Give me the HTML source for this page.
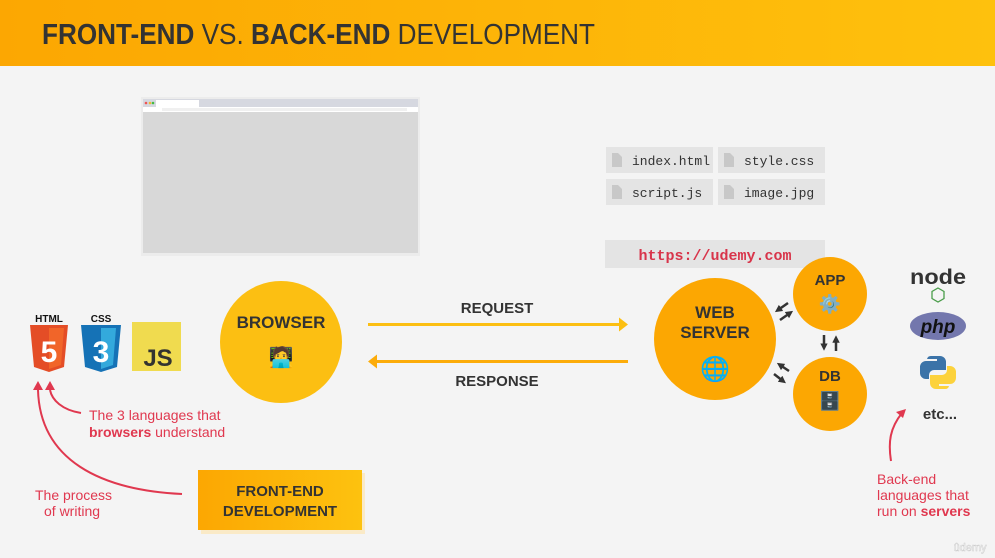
<!DOCTYPE html>
<html><head><meta charset="utf-8"><style>
html,body{margin:0;padding:0;width:995px;height:558px;overflow:hidden;background:#f4f4f4}
svg{display:block}
text{font-family:"Liberation Sans",sans-serif}
.m{font-family:"Liberation Mono",monospace}
</style></head><body>
<svg width="995" height="558" viewBox="0 0 995 558" xmlns="http://www.w3.org/2000/svg">
<defs>
<linearGradient id="hg" x1="0" x2="1" y1="0" y2="0"><stop offset="0" stop-color="#fca702"/><stop offset="1" stop-color="#fec10d"/></linearGradient>
<linearGradient id="fg" x1="0" x2="1"><stop offset="0" stop-color="#fca702"/><stop offset="1" stop-color="#fdc20f"/></linearGradient>
<marker id="ah" viewBox="0 0 10 10" refX="5" refY="5" markerWidth="3" markerHeight="3" orient="auto"><path d="M0 0L10 5L0 10z" fill="#333"/></marker>
</defs>
<rect width="995" height="558" fill="#f4f4f4"/>
<rect width="995" height="66" fill="url(#hg)"/>
<text x="42" y="44" font-size="29" fill="#333" textLength="553" lengthAdjust="spacingAndGlyphs"><tspan font-weight="bold">FRONT-END</tspan> VS. <tspan font-weight="bold">BACK-END</tspan> DEVELOPMENT</text>

<!-- browser mockup -->
<rect x="141" y="97" width="279" height="159" fill="#e6e6e6" opacity="0.6"/>
<rect x="143" y="99" width="275" height="154" fill="#d8d8d8"/>
<rect x="143" y="99" width="275" height="8" fill="#d6d8e0"/>
<rect x="156" y="100" width="43" height="7" fill="#fff"/>
<circle cx="146" cy="103" r="1.3" fill="#e55"/><circle cx="150" cy="103" r="1.3" fill="#eb3"/><circle cx="153" cy="103" r="1.3" fill="#4b4"/>
<rect x="143" y="107" width="275" height="5" fill="#fff"/>
<rect x="162" y="108" width="245" height="3" fill="#f0f0f0"/>

<!-- files -->
<g fill="#e4e4e4">
<rect x="606" y="147" width="107" height="26"/><rect x="718" y="147" width="107" height="26"/>
<rect x="606" y="179" width="107" height="26"/><rect x="718" y="179" width="107" height="26"/>
</g>
<g fill="#c8c8c8">
<path d="M612 153h6l4 4v10h-10z"/><path d="M724 153h6l4 4v10h-10z"/>
<path d="M612 185h6l4 4v10h-10z"/><path d="M724 185h6l4 4v10h-10z"/>
</g>
<g font-size="13" fill="#333">
<text x="632" y="165" class="m">index.html</text><text x="744" y="165" class="m">style.css</text>
<text x="632" y="197" class="m">script.js</text><text x="744" y="197" class="m">image.jpg</text>
</g>
<rect x="605" y="240" width="220" height="28" fill="#e4e4e4"/>
<text x="715" y="260" text-anchor="middle" class="m" font-size="15" font-weight="bold" fill="#d8344a">https://udemy.com</text>

<!-- browser circle -->
<circle cx="281" cy="342" r="61" fill="#fcbf12"/>
<text x="281" y="328" text-anchor="middle" font-size="17" font-weight="bold" fill="#333">BROWSER</text>
<text x="281" y="364" text-anchor="middle" font-size="20">🧑‍💻</text>

<!-- arrows -->
<text x="497" y="313" text-anchor="middle" font-size="15" font-weight="bold" fill="#333">REQUEST</text>
<line x1="368" y1="324.5" x2="620" y2="324.5" stroke="#fcbf12" stroke-width="3"/>
<path d="M628 324.5l-9-7v14z" fill="#fcbf12"/>
<line x1="376" y1="361.5" x2="628" y2="361.5" stroke="#fcac0a" stroke-width="3"/>
<path d="M368 361.5l9-7v14z" fill="#fcac0a"/>
<text x="497" y="386" text-anchor="middle" font-size="15" font-weight="bold" fill="#333">RESPONSE</text>

<!-- server -->
<circle cx="715" cy="339" r="61" fill="#fca702"/>
<text x="715" y="318" text-anchor="middle" font-size="17" font-weight="bold" fill="#333">WEB</text>
<text x="715" y="338" text-anchor="middle" font-size="17" font-weight="bold" fill="#333">SERVER</text>
<text x="715" y="377" text-anchor="middle" font-size="24">🌐</text>
<circle cx="830" cy="294" r="37" fill="#fca702"/>
<text x="830" y="285" text-anchor="middle" font-size="15" font-weight="bold" fill="#333">APP</text>
<text x="830" y="310" text-anchor="middle" font-size="18">⚙️</text>
<circle cx="830" cy="394" r="37" fill="#fca702"/>
<text x="830" y="381" text-anchor="middle" font-size="15" font-weight="bold" fill="#333">DB</text>
<text x="830" y="407" text-anchor="middle" font-size="18">🗄️</text>
<g stroke="#333" stroke-width="2.5" marker-end="url(#ah)">
<line x1="788" y1="303" x2="778" y2="310"/>
<line x1="780" y1="320" x2="790" y2="313"/>
<line x1="789" y1="371" x2="780" y2="365"/>
<line x1="774" y1="374" x2="783" y2="381"/>
<line x1="824" y1="335" x2="824" y2="347"/>
<line x1="836" y1="351" x2="836" y2="339"/>
</g>

<!-- backend langs -->
<text x="938" y="284" text-anchor="middle" font-size="21" font-weight="bold" fill="#333" textLength="56" lengthAdjust="spacingAndGlyphs">node</text>
<path d="M938 288l6 3.5v7l-6 3.5-6-3.5v-7z" fill="none" stroke="#4a9d4a" stroke-width="1.3"/>
<ellipse cx="938" cy="326" rx="28" ry="14" fill="#7377ad"/>
<text x="938" y="333" text-anchor="middle" font-size="19" font-weight="bold" font-style="italic" fill="#111">php</text>
<path d="M931 356h9a6 6 0 0 1 6 6v8h-12a5 5 0 0 0-5 5v4h-3a6 6 0 0 1-6-6v-6a6 6 0 0 1 6-6h11v-2h-10a4 4 0 0 1 4-3z" fill="#3b73a8"/>
<path d="M945 389h-9a6 6 0 0 1-6-6v-8h12a5 5 0 0 0 5-5v-4h3a6 6 0 0 1 6 6v6a6 6 0 0 1-6 6h-11v2h10a4 4 0 0 1-4 3z" fill="#fcd23c"/>
<text x="940" y="419" text-anchor="middle" font-size="15" font-weight="bold" fill="#333">etc...</text>
<path d="M891 461C888 442 890 428 902 413" fill="none" stroke="#e0384f" stroke-width="2"/>
<path d="M906 409l-10 3 7 6z" fill="#e0384f"/>
<g font-size="14" fill="#e0384f">
<text x="877" y="484">Back-end</text>
<text x="877" y="500">languages that</text>
<text x="877" y="516">run on <tspan font-weight="bold">servers</tspan></text>
</g>

<!-- frontend icons -->
<text x="49" y="322" text-anchor="middle" font-size="10" font-weight="bold" fill="#111">HTML</text>
<path d="M30 325h38l-4 42-15 5-15-5z" fill="#e44d26"/>
<path d="M49 328v41l12-4 3-37z" fill="#f16529"/>
<text x="49" y="362" text-anchor="middle" font-size="30" font-weight="bold" fill="#fff">5</text>
<text x="101" y="322" text-anchor="middle" font-size="10" font-weight="bold" fill="#111">CSS</text>
<path d="M81 325h40l-4 42-16 5-16-5z" fill="#1572b6"/>
<path d="M101 328v41l12-4 3-37z" fill="#33a9dc"/>
<text x="101" y="362" text-anchor="middle" font-size="30" font-weight="bold" fill="#fff">3</text>
<rect x="132" y="322" width="49" height="49" fill="#f0db4f"/>
<text x="158" y="366" text-anchor="middle" font-size="24" font-weight="bold" fill="#323330">JS</text>

<path d="M81 413C62 410 52 400 50 390" fill="none" stroke="#e0384f" stroke-width="2"/>
<path d="M50 381l-5 9h10z" fill="#e0384f"/>
<path d="M182 494C100 490 40 460 38 390" fill="none" stroke="#e0384f" stroke-width="2"/>
<path d="M38 381l-5 9h10z" fill="#e0384f"/>
<g font-size="14" fill="#e0384f">
<text x="89" y="420">The 3 languages that</text>
<text x="89" y="437"><tspan font-weight="bold">browsers</tspan> understand</text>
<text x="35" y="500">The process</text>
<text x="44" y="516">of writing</text>
</g>

<rect x="201" y="473" width="164" height="61" fill="#fde3a8" opacity="0.6"/>
<rect x="198" y="470" width="164" height="60" fill="url(#fg)"/>
<text x="280" y="496" text-anchor="middle" font-size="15" font-weight="bold" fill="#333">FRONT-END</text>
<text x="280" y="516" text-anchor="middle" font-size="15" font-weight="bold" fill="#333">DEVELOPMENT</text>

<text x="970" y="551" text-anchor="middle" font-size="11" fill="#fff" stroke="#ccc" stroke-width="0.5">ûdemy</text>
</svg>
</body></html>
